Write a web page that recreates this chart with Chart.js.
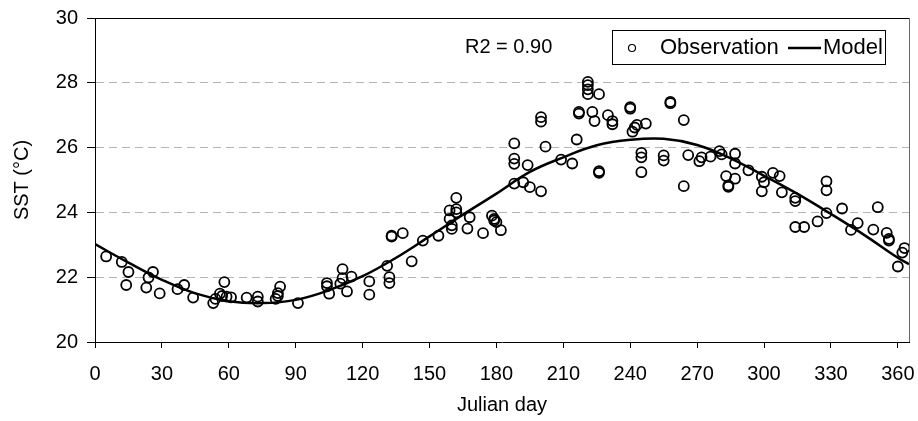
<!DOCTYPE html>
<html>
<head>
<meta charset="utf-8">
<script src="https://cdn.jsdelivr.net/npm/chart.js@4.4.1/dist/chart.umd.min.js"></script>
<style>
    html, body { margin: 0; padding: 0; background: #fff; }
    #wrap { width: 918px; height: 421px; }
</style>
</head>
<body>
<div id="wrap"><canvas id="sstChart" width="918" height="421"></canvas></div>
<script>
const obsDay = [
    5, 12, 15, 14, 23, 24, 26, 29, 37, 40, 44, 53, 54, 56, 57, 58, 59, 61, 68, 73, 73, 81, 82, 82, 83, 91,
    104, 104, 105, 110, 111, 111, 113, 115, 123, 123, 131, 132, 132, 133, 133, 138, 142, 147, 154,
    159, 159, 160, 160, 162, 162, 162, 167, 168, 174, 178, 179, 179, 180, 182,
    188, 188, 188, 188, 192, 194, 195, 200, 200, 200, 202, 209, 214, 216, 217, 217,
    221, 221, 221, 221, 223, 224, 226, 226, 226, 230, 232, 232, 240, 240, 241, 242, 243,
    245, 245, 245, 247, 255, 255, 258, 258, 264, 264, 266, 271, 272,
    276, 280, 281, 283, 284, 284, 287, 287, 287, 293, 299, 299, 300, 304, 307, 308,
    314, 314, 314, 318, 324, 328, 328, 328, 335, 339, 342, 349, 351, 355, 356, 356, 360, 362, 363
];
const obsSST = [
    22.64, 22.47, 22.16, 21.76, 21.68, 21.99, 22.16, 21.50, 21.63, 21.76, 21.37, 21.20, 21.33, 21.49, 21.42, 21.85, 21.40, 21.38, 21.37, 21.40, 21.25, 21.33, 21.42, 21.51, 21.71, 21.20,
    21.82, 21.72, 21.49, 21.80, 22.25, 21.97, 21.56, 22.02, 21.87, 21.46, 22.35, 22.00, 21.82, 23.28, 23.25, 23.36, 22.49, 23.13, 23.28,
    24.06, 23.80, 23.49, 23.60, 24.45, 24.10, 24.00, 23.50, 23.85, 23.36, 23.90, 23.80, 23.75, 23.70, 23.45,
    26.13, 25.66, 25.50, 24.89, 24.93, 25.46, 24.78, 26.94, 26.80, 24.65, 26.03, 25.63, 25.51, 26.25, 27.10, 27.05,
    28.03, 27.93, 27.80, 27.65, 27.10, 26.82, 27.65, 25.27, 25.22, 27.00, 26.82, 26.72, 27.25, 27.20, 26.49, 26.62, 26.70,
    25.84, 25.70, 25.24, 26.74, 25.76, 25.60, 27.41, 27.37, 24.81, 26.85, 25.77, 25.58, 25.70,
    25.72, 25.89, 25.79, 25.12, 24.79, 24.83, 25.81, 25.04, 25.51, 25.30, 25.10, 24.65, 24.93, 25.22, 25.12, 24.62,
    24.45, 24.35, 23.55, 23.55, 23.72, 24.96, 24.68, 23.98, 24.12, 23.46, 23.67, 23.47, 24.16, 23.37, 23.13, 23.18, 22.33, 22.76, 22.90
];

// Model curve
const modelDay = [0, 15, 30, 45, 60, 75, 90, 105, 120, 135, 150, 165, 180, 195, 210, 225, 240, 255, 270, 285, 300, 315, 330, 345, 360, 365];
const modelSST = [23.02, 22.45, 21.92, 21.50, 21.26, 21.20, 21.30, 21.60, 22.03, 22.60, 23.26, 23.93, 24.58, 25.25, 25.70, 26.07, 26.24, 26.27, 26.08, 25.67, 25.13, 24.57, 23.95, 23.30, 22.60, 22.40];

const xTicks = [0, 30, 60, 90, 120, 150, 180, 210, 240, 270, 300, 330, 360];
const yTicks = [20, 22, 24, 26, 28, 30];

const FONT = 'Liberation Sans, Arial, sans-serif';

// frame, R2 label and boxed legend
const extrasPlugin = {
    id: 'extras',
    afterDraw(chart) {
        const ctx = chart.ctx;
        const a = chart.chartArea;
        ctx.save();
        ctx.lineWidth = 1;
        ctx.strokeStyle = '#000';
        ctx.beginPath();
        ctx.moveTo(a.left, a.top + 0.5);
        ctx.lineTo(a.right, a.top + 0.5);
        ctx.stroke();
        ctx.strokeStyle = '#666';
        ctx.beginPath();
        ctx.moveTo(a.right + 0.5, a.top);
        ctx.lineTo(a.right + 0.5, a.bottom);
        ctx.stroke();

        ctx.fillStyle = '#000';
        ctx.font = '20px ' + FONT;
        ctx.textBaseline = 'middle';
        ctx.textAlign = 'left';
        ctx.fillText('R2 = 0.90', 465, 47);

        // legend box
        ctx.fillStyle = '#fff';
        ctx.fillRect(612, 30, 273, 34);
        ctx.strokeStyle = '#000';
        ctx.strokeRect(612.5, 30.5, 273, 34);
        ctx.beginPath();
        ctx.arc(632, 48, 3.5, 0, Math.PI * 2);
        ctx.lineWidth = 1.2;
        ctx.stroke();
        ctx.fillStyle = '#000';
        ctx.font = '22px ' + FONT;
        ctx.fillText(chart.data.datasets[1].label, 660, 48);
        ctx.lineWidth = 2.5;
        ctx.beginPath();
        ctx.moveTo(788, 48);
        ctx.lineTo(821, 48);
        ctx.stroke();
        ctx.fillText(chart.data.datasets[0].label, 823, 48);
        ctx.restore();
    }
};

const chart = new Chart(document.getElementById('sstChart'), {
    type: 'scatter',
    data: {
        datasets: [
            {
                type: 'line',
                label: 'Model',
                data: modelDay.map((d, i) => ({ x: d, y: modelSST[i] })),
                borderColor: '#000',
                borderWidth: 2.5,
                pointRadius: 0,
                tension: 0.4,
                fill: false,
                order: 0
            },
            {
                label: 'Observation',
                data: obsDay.map((d, i) => ({ x: d, y: obsSST[i] })),
                backgroundColor: 'rgba(0,0,0,0)',
                borderColor: '#000',
                borderWidth: 1.8,
                pointRadius: 5,
                order: 1
            }
        ]
    },
    options: {
        responsive: false,
        animation: false,
        devicePixelRatio: 1,
        layout: { autoPadding: false, padding: { top: 18, right: 9, left: 0, bottom: 0 } },
        plugins: {
            legend: { display: false },
            tooltip: { enabled: false }
        },
        scales: {
            x: {
                type: 'linear',
                min: 0,
                max: 365,
                afterBuildTicks: s => { s.ticks = xTicks.map(v => ({ value: v })); },
                afterFit: s => { s.height = 79; s.paddingLeft = 0; s.paddingRight = 0; },
                grid: { drawOnChartArea: false, tickLength: 6, tickColor: '#000' },
                border: { color: '#000', width: 1 },
                ticks: { color: '#000', font: { family: FONT, size: 20 }, padding: 14, maxRotation: 0 },
                title: { display: true, text: 'Julian day', color: '#000', font: { family: FONT, size: 20 }, padding: { top: 0, bottom: 4 } }
            },
            y: {
                min: 20,
                max: 30,
                afterBuildTicks: s => { s.ticks = yTicks.map(v => ({ value: v })); },
                afterFit: s => { s.width = 95; s.paddingTop = 0; s.paddingBottom = 0; },
                grid: {
                    color: c => (c.tick && (c.tick.value === 20 || c.tick.value === 30)) ? 'rgba(0,0,0,0)' : '#b4b4b4',
                    tickColor: '#000',
                    tickLength: 8,
                    tickBorderDash: []
                },
                border: { color: '#000', width: 1, dash: [8, 5] },
                ticks: { color: '#000', font: { family: FONT, size: 20 }, padding: 9 },
                title: { display: true, text: 'SST (°C)', color: '#000', font: { family: FONT, size: 20 }, padding: { top: 10, bottom: 0 } }
            }
        }
    },
    plugins: [extrasPlugin]
});
</script>
</body>
</html>
